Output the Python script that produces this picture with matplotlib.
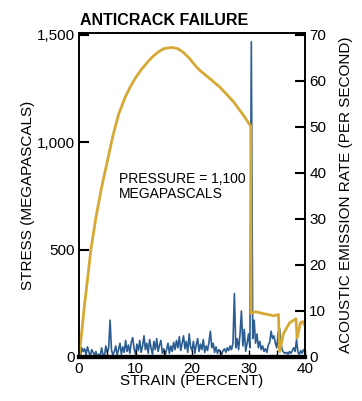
import matplotlib
matplotlib.use('Agg')
import matplotlib.pyplot as plt
import numpy as np

plt.rcParams['font.family'] = ['Liberation Sans', 'DejaVu Sans']

# stress-strain curve (left axis, megapascals)
stress_strain = [0, 0.5, 0.94, 1.5, 2.1, 3, 4, 5, 6, 7, 8.1, 9, 10, 11, 12, 13, 14, 15, 16.4,
                 17.5, 18.5, 19.5, 20.5, 21.3, 23, 25, 27.3, 29, 30.4, 30.45, 31.2, 33, 34.5,
                 35.3, 35.5, 36.2, 37.3, 38.4, 38.6, 39.2, 39.6, 40]
stress = [0, 120, 234, 360, 500, 650, 790, 910, 1030, 1130, 1205, 1255, 1300, 1338, 1369, 1398,
          1420, 1436, 1442, 1436, 1418, 1392, 1360, 1337, 1300, 1255, 1190, 1130, 1075, 203,
          211, 200, 192, 198, 25, 110, 160, 178, 88, 160, 165, 145]

# acoustic emission rate (right axis, per second), sampled every 0.25 % strain
ae_step = 0.25
ae_rate = [1.0, 0.3, 2.0, 1.2, 1.8, 0.5, 2.2, 1.0, 0.3, 1.6, 1.0, 0.4, 1.2, 0.0, 0.6, 0.2,
           2.0, 0.5, 0.2, 2.4, 1.0, 2.0, 8.0, 1.5, 0.4, 1.2, 2.4, 0.5, 1.6, 3.0, 0.6, 2.2,
           1.0, 3.6, 1.2, 2.6, 0.8, 3.2, 4.2, 1.8, 0.6, 2.8, 1.4, 3.6, 1.0, 2.4, 4.6, 1.6,
           3.0, 0.8, 3.8, 2.0, 0.6, 3.4, 1.6, 4.0, 1.2, 2.6, 3.6, 0.8, 1.8, 0.4, 1.6, 3.0,
           0.8, 2.4, 1.2, 3.2, 1.6, 3.6, 2.0, 4.4, 1.4, 3.0, 4.6, 1.8, 3.4, 1.0, 5.0, 2.2,
           1.4, 3.4, 0.8, 2.6, 4.0, 1.2, 2.8, 1.6, 3.8, 1.0, 2.4, 1.4, 3.2, 5.6, 2.0, 3.0,
           1.0, 2.2, 0.8, 1.6, 1.2, 0.6, 1.4, 1.8, 1.0, 2.0, 1.4, 2.4, 1.6, 3.0, 13.8, 2.0,
           4.0, 1.6, 5.0, 10.0, 2.4, 6.0, 1.2, 3.0, 5.0, 2.0, 68.5, 4.0, 8.0, 3.0, 5.0, 2.0,
           3.4, 1.6, 2.4, 1.2, 1.8, 1.0, 2.6, 3.2, 5.6, 4.0, 4.6, 3.0, 2.0, 5.4, 6.2, 3.0,
           1.4, 1.0, 0.8, 1.0, 0.6, 1.2, 0.8, 1.4, 2.0, 1.2, 3.8, 1.0, 0.6, 1.4, 0.8, 1.6,
           1.0]
ae_strain = np.arange(len(ae_rate)) * ae_step

yellow = '#d6a935'
blue = '#2b5d92'

W, H = 362, 401
fig = plt.figure(figsize=(W/100, H/100), dpi=100)
ax = fig.add_axes([79/W, 1-357/H, 226/W, 324/H])
ax2 = ax.twinx()

ax2.plot(ae_strain, ae_rate, color=blue, lw=1.2)
ax.plot(stress_strain, stress, color=yellow, lw=2.0, solid_joinstyle='round')
ax.set_zorder(ax2.get_zorder() + 1)
ax.patch.set_visible(False)

ax.set_xlim(0, 40)
ax.set_ylim(0, 1509)
ax2.set_ylim(0, 70.4)

ax.set_xticks([0, 10, 20, 30, 40])
ax.set_xticks([5, 15, 25, 35], minor=True)
ax.set_yticks([0, 500, 1000, 1500])
ax.set_yticklabels(['0', '500', '1,000', '1,500'])
ax2.set_yticks(range(0, 71, 10))

ax.tick_params(axis='x', which='both', direction='in', length=5, width=1, labelsize=11, pad=3.5)
ax.tick_params(axis='y', direction='in', length=7, width=1.5, labelsize=11, pad=3)
ax2.tick_params(axis='y', direction='in', length=7, width=1.5, labelsize=11, pad=3)

for a in (ax, ax2):
    for s in ('left', 'right', 'top'):
        a.spines[s].set_linewidth(1.2)
    a.spines['bottom'].set_linewidth(3)

ax.set_xlabel('STRAIN (PERCENT)', fontsize=11, labelpad=-1)
ax.set_ylabel('STRESS (MEGAPASCALS)', fontsize=11, labelpad=1)
ax2.set_ylabel('ACOUSTIC EMISSION RATE (PER SECOND)', fontsize=11, labelpad=9)

fig.text(80/W, 1-25/H, 'ANTICRACK FAILURE', fontsize=11.5, fontweight='bold', va='baseline')
fig.text(119/W, 1-198/H, 'PRESSURE = 1,100\nMEGAPASCALS', fontsize=10,
         va='baseline', linespacing=1.05)

fig.savefig('out.png', dpi=100)
